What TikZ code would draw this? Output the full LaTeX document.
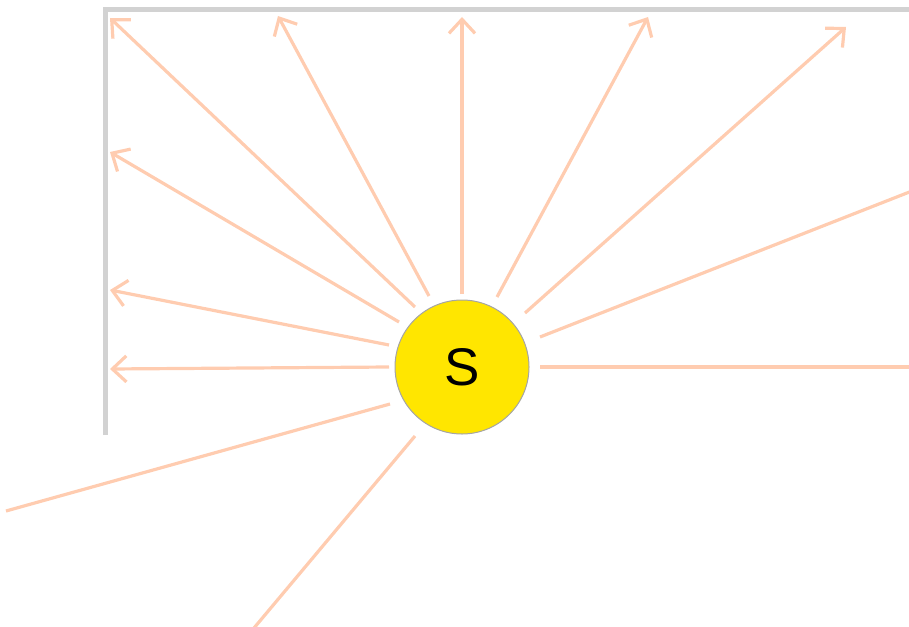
\documentclass[tikz,border=0pt]{standalone}
\usepackage{fontspec}
\setmainfont{Liberation Sans}
\usetikzlibrary{arrows.meta}
\definecolor{ray}{RGB}{255,204,176}
\definecolor{wallgray}{RGB}{210,210,210}
\definecolor{sunyellow}{RGB}{255,230,0}
\definecolor{rimgray}{RGB}{165,165,165}
\tikzset{
  sun/.style={circle, fill=sunyellow, draw=rimgray, line width=1pt, minimum size=134pt, inner sep=0pt, font=\fontsize{53}{53}\selectfont},
  wall/.style={draw=wallgray, line width=5pt},
  rayarrow/.style={draw=ray, line width=3.2pt, -{Straight Barb[length=14pt,width=26pt,line width=3.2pt]}},
  rayline/.style={draw=ray, line width=3.2pt},
}
\begin{document}
\begin{tikzpicture}[x=1pt,y=-1pt]
\useasboundingbox (0,0) rectangle (909,626);
\clip (0,0) rectangle (909,626);
% wall
\coordinate (wb) at (105,435);
\coordinate (wc) at (105,10);
\coordinate (we) at (912,10);
\draw[wall] (wb) -- (wc) -- (we);
% sun
\node[sun] (S) at (462,367) {S};
% ray start points
\coordinate (s1) at (415,307);
\coordinate (s2) at (429,296);
\coordinate (s3) at (462,294);
\coordinate (s4) at (497,297);
\coordinate (s5) at (525,313);
\coordinate (s6) at (540,337);
\coordinate (s7) at (540,367);
\coordinate (s8) at (399,322);
\coordinate (s9) at (389,345);
\coordinate (s10) at (389,367);
\coordinate (s11) at (390,404);
\coordinate (s12) at (415,436);
% ray end points
\coordinate (e1) at (110,18);
\coordinate (e2) at (278,16);
\coordinate (e3) at (462,17);
\coordinate (e4) at (648,17);
\coordinate (e5) at (846,27);
\coordinate (e6) at (912,191);
\coordinate (e7) at (912,367);
\coordinate (e8) at (110,152);
\coordinate (e9) at (110,290);
\coordinate (e10) at (110,369);
\coordinate (e11) at (6,511);
\coordinate (e12) at (254,628);
% rays
\draw[rayarrow] (s1) -- (e1);
\draw[rayarrow] (s2) -- (e2);
\draw[rayarrow] (s3) -- (e3);
\draw[rayarrow] (s4) -- (e4);
\draw[rayarrow] (s5) -- (e5);
\draw[rayline] (s6) -- (e6);
\draw[rayline] (s7) -- (e7);
\draw[rayarrow] (s8) -- (e8);
\draw[rayarrow] (s9) -- (e9);
\draw[rayarrow] (s10) -- (e10);
\draw[rayline] (s11) -- (e11);
\draw[rayline] (s12) -- (e12);
\end{tikzpicture}
\end{document}
